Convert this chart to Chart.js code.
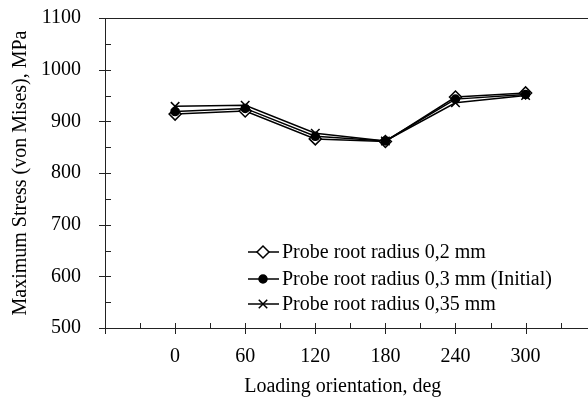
<!DOCTYPE html>
<html>
<head>
<meta charset="utf-8">
<script src="https://cdn.jsdelivr.net/npm/chart.js@4/dist/chart.umd.min.js"></script>
<style>
    html, body { margin: 0; padding: 0; background: #fff; }
    #wrap { width: 588px; height: 398px; }
</style>
</head>
<body>
<div id="wrap"><canvas id="chart-stress"></canvas></div>
<script>
const angles = [0, 60, 120, 180, 240, 300];
const stressR020 = [914, 920, 866, 861, 947, 955];
const stressR030 = [919, 925, 871, 862, 943, 952];
const stressR035 = [929, 931, 877, 862, 936, 950];
const seriesNames = ['Probe root radius 0,2 mm', 'Probe root radius 0,3 mm (Initial)', 'Probe root radius 0,35 mm'];
const xTickLabels = [0, 60, 120, 180, 240, 300];
const yTicks = [500, 600, 700, 800, 900, 1000, 1100];

const serif = '"Liberation Serif", "Times New Roman", serif';

function toPoints(values) {
    return angles.map((a, i) => ({ x: a, y: values[i] }));
}

// diamond below, cross in the middle, filled circle on top
const markerStyles = [
    { pointStyle: 'rectRot', radius: 6, fill: '#fff', order: 2 },
    { pointStyle: 'circle', radius: 4, fill: '#000', order: 0 },
    { pointStyle: 'crossRot', radius: 6, fill: '#000', order: 1 }
];

// axis frame, crossing major ticks, inside minor ticks, and the legend
const framePlugin = {
    id: 'frame',
    afterDraw(chart) {
        const ctx = chart.ctx;
        const xs = chart.scales.x;
        const ys = chart.scales.y;
        const area = chart.chartArea;
        ctx.save();
        ctx.strokeStyle = '#222';
        ctx.lineWidth = 1;
        ctx.beginPath();
        ctx.moveTo(area.left + 0.5, area.top + 0.5);
        ctx.lineTo(chart.width, area.top + 0.5);
        ctx.moveTo(area.left + 0.5, area.top);
        ctx.lineTo(area.left + 0.5, area.bottom + 0.5);
        ctx.lineTo(chart.width, area.bottom + 0.5);
        for (let v = -60; v <= 360; v += 30) {
            const px = Math.round(xs.getPixelForValue(v)) + 0.5;
            if (px > chart.width) break;
            const major = v % 60 === 0;
            ctx.moveTo(px, area.bottom - 5);
            ctx.lineTo(px, area.bottom + (major ? 6 : 0));
        }
        for (let v = 500; v <= 1100; v += 50) {
            const py = Math.round(ys.getPixelForValue(v)) + 0.5;
            const major = v % 100 === 0;
            ctx.moveTo(area.left + 6, py);
            ctx.lineTo(area.left - (major ? 6 : 0), py);
        }
        ctx.stroke();

        // legend
        const rowsY = [252, 279, 304];
        ctx.font = '20px ' + serif;
        ctx.textBaseline = 'middle';
        chart.data.datasets.forEach((ds, i) => {
            const y = rowsY[i];
            ctx.strokeStyle = '#000';
            ctx.lineWidth = 1.5;
            ctx.beginPath();
            ctx.moveTo(248, y);
            ctx.lineTo(279, y);
            ctx.stroke();
            const m = markerStyles[i];
            ctx.fillStyle = m.fill;
            Chart.helpers.drawPoint(ctx, { pointStyle: m.pointStyle, radius: m.radius, rotation: 0, borderWidth: 1.5 }, 263, y);
            ctx.fillStyle = '#000';
            ctx.fillText(ds.label, 282, y + 1);
        });
        ctx.restore();
    }
};

document.addEventListener('DOMContentLoaded', function () {
    const ctx = document.getElementById('chart-stress').getContext('2d');
    const allValues = [stressR020, stressR030, stressR035];

    const datasets = allValues.map((vals, i) => ({
        label: seriesNames[i],
        data: toPoints(vals),
        order: markerStyles[i].order,
        borderColor: '#000',
        borderWidth: 1.5,
        pointStyle: markerStyles[i].pointStyle,
        pointRadius: markerStyles[i].radius,
        pointBackgroundColor: markerStyles[i].fill,
        pointBorderColor: '#000',
        pointBorderWidth: 1.5,
        fill: false,
        tension: 0
    }));

    new Chart(ctx, {
        type: 'line',
        data: { datasets: datasets },
        options: {
            responsive: true,
            maintainAspectRatio: false,
            animation: false,
            layout: { padding: { left: 6, right: 0, top: 18, bottom: 0 } },
            plugins: {
                legend: { display: false },
                tooltip: { enabled: false }
            },
            scales: {
                x: {
                    type: 'linear',
                    min: -60,
                    max: 347,
                    afterBuildTicks: (scale) => {
                        scale.ticks = xTickLabels.map(v => ({ value: v }));
                    },
                    afterFit: (scale) => {
                        scale.height = 70;
                        scale.paddingLeft = 0;
                        scale.paddingRight = 0;
                    },
                    grid: { display: false, drawTicks: false },
                    border: { display: false },
                    ticks: {
                        color: '#000',
                        font: { family: serif, size: 20 },
                        padding: 17,
                        maxRotation: 0,
                        callback: (v) => String(v)
                    },
                    title: {
                        display: true,
                        text: 'Loading orientation, deg',
                        color: '#000',
                        font: { family: serif, size: 20 },
                        padding: { top: 0, bottom: -1 }
                    }
                },
                y: {
                    min: 500,
                    max: 1100,
                    afterBuildTicks: (scale) => {
                        scale.ticks = yTicks.map(v => ({ value: v }));
                    },
                    afterFit: (scale) => {
                        scale.width = 99;
                        scale.paddingTop = 0;
                        scale.paddingBottom = 0;
                    },
                    grid: { display: false, drawTicks: false },
                    border: { display: false },
                    ticks: {
                        color: '#000',
                        font: { family: serif, size: 20 },
                        padding: 24,
                        callback: (v) => String(v)
                    },
                    title: {
                        display: true,
                        text: 'Maximum Stress (von Mises), MPa',
                        color: '#000',
                        font: { family: serif, size: 20 },
                        padding: { top: 3, bottom: 6 }
                    }
                }
            }
        },
        plugins: [framePlugin]
    });
});
</script>
</body>
</html>
